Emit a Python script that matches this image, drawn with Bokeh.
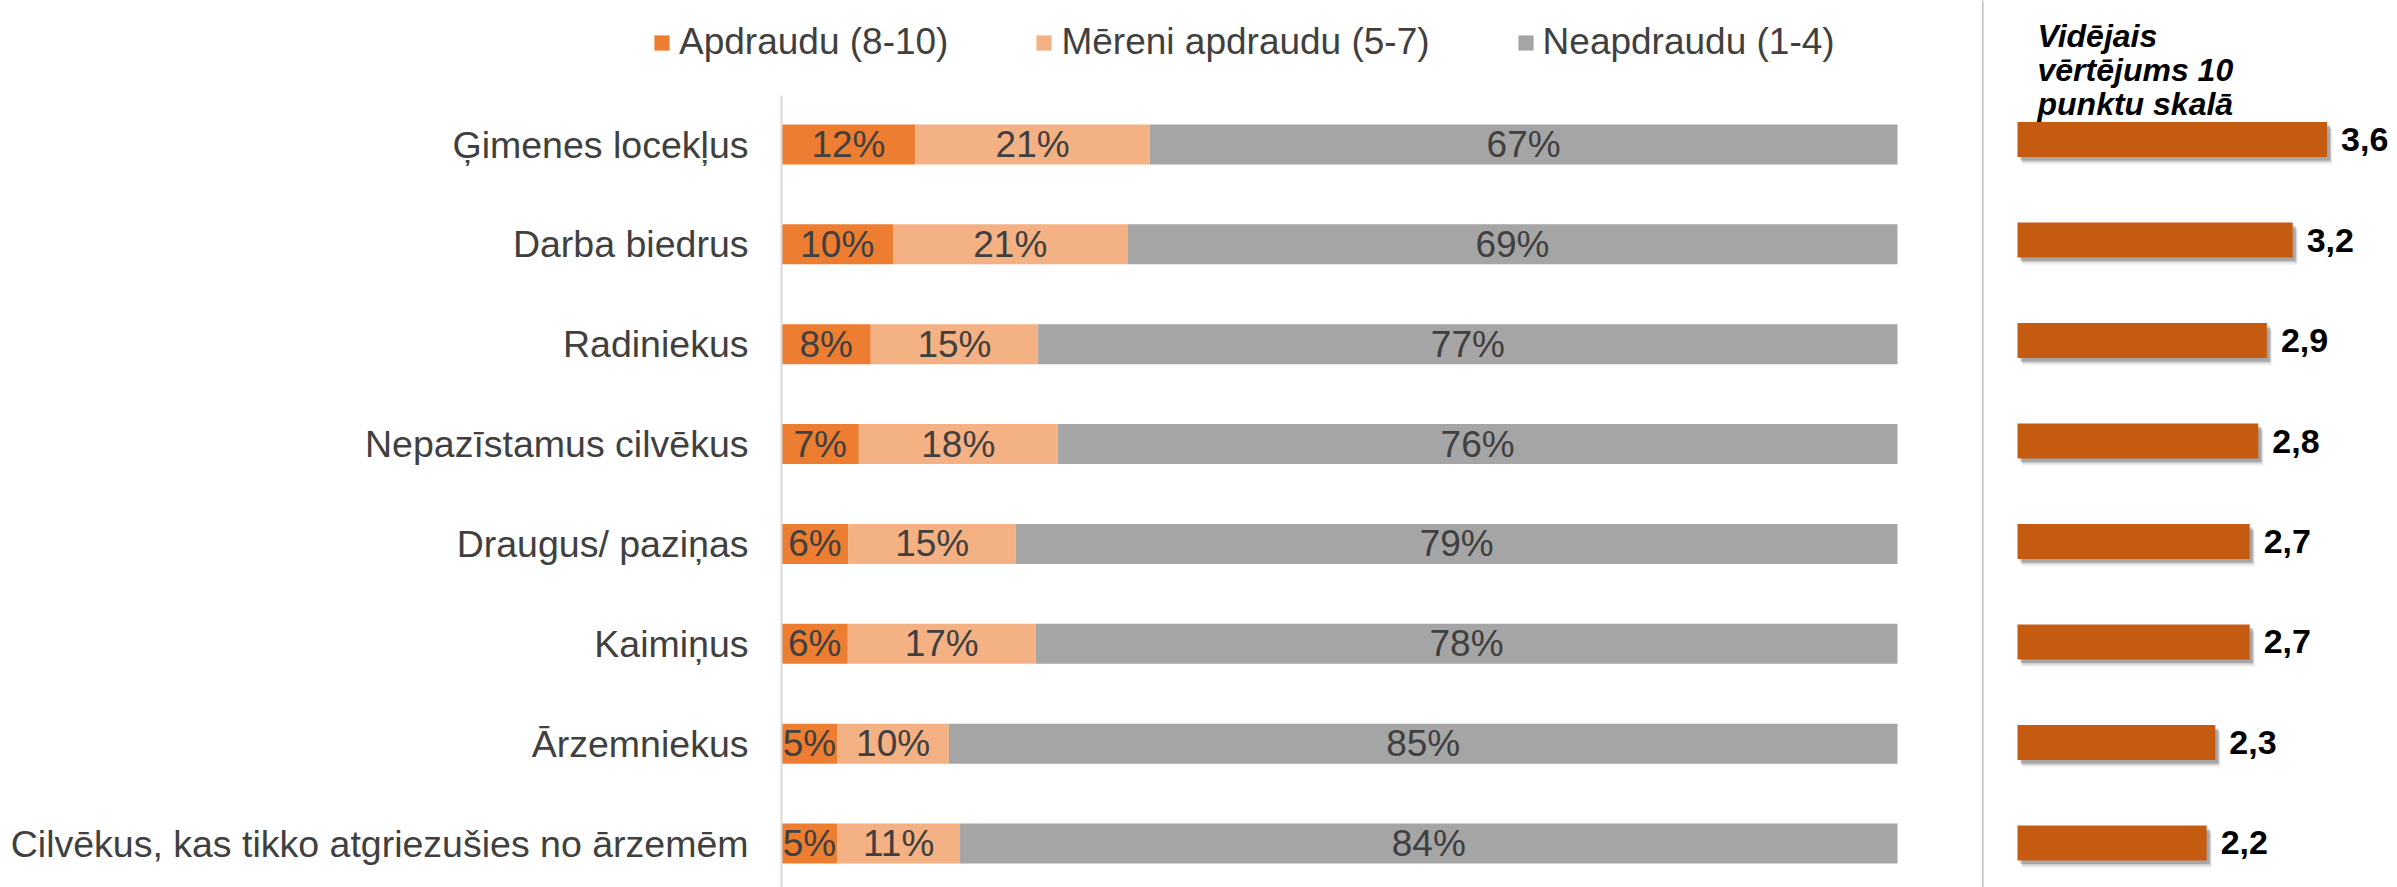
from bokeh.plotting import figure
from bokeh.models import Range1d, FixedTicker, Legend, LegendItem, Label, ColumnDataSource
from bokeh.layouts import row
from bokeh.embed import file_html
from bokeh.resources import INLINE
from bokeh.core.properties import value

# ---------------- data ----------------
categories = [
    "Ģimenes locekļus",
    "Darba biedrus",
    "Radiniekus",
    "Nepazīstamus cilvēkus",
    "Draugus/ paziņas",
    "Kaimiņus",
    "Ārzemniekus",
    "Cilvēkus, kas tikko atgriezušies no ārzemēm",
]
threatened = [12, 10, 8, 7, 6, 6, 5, 5]          # Apdraudu (8-10)
moderate = [21, 21, 15, 18, 15, 17, 10, 11]      # Mēreni apdraudu (5-7)
not_threatened = [67, 69, 77, 76, 79, 78, 85, 84]  # Neapdraudu (1-4)
avg_score = [3.6, 3.2, 2.9, 2.8, 2.7, 2.7, 2.3, 2.2]
series_names = ["Apdraudu (8-10)", "Mēreni apdraudu (5-7)", "Neapdraudu (1-4)"]
series_colors = ["#ED7D31", "#F4B183", "#A5A5A5"]
avg_color = "#C55A11"
avg_title = ["Vidējais", "vērtējums 10", "punktu skalā"]

FONT = "Liberation Sans"
TXT = "#404040"

n = len(categories)
ys = [n - 1 - i for i in range(n)]

# ---------------- left: 100% stacked bars ----------------
Y0, Y1 = -0.44042, 8.44202
p1 = figure(width=1982, height=887, output_backend="svg", toolbar_location=None,
            x_range=Range1d(-0.69982, 1.07617), y_range=Range1d(Y0, Y1),
            x_axis_location=None, min_border=0)
p1.outline_line_color = None
p1.xgrid.visible = False
p1.ygrid.visible = False

series = [threatened, moderate, not_threatened]
totals = [sum(s[i] for s in series) for i in range(n)]
cum = [0.0] * n
renderers = []
for k, s in enumerate(series):
    left = [cum[i] for i in range(n)]
    right = [cum[i] + s[i] / totals[i] for i in range(n)]
    cum = right
    src = ColumnDataSource(dict(
        y=ys, left=left, right=right,
        mid=[(l + r) / 2 for l, r in zip(left, right)],
        lab=[f"{v}%" for v in s],
    ))
    r = p1.hbar(y="y", left="left", right="right", height=0.4006, source=src,
                fill_color=series_colors[k], line_color=None)
    renderers.append(r)
    p1.text(x="mid", y="y", text="lab", source=src, text_align="center",
            text_baseline="middle", text_font=value(FONT),
            text_font_size=value("37px"), text_color=TXT)

yax = p1.yaxis[0]
yax.fixed_location = 0
yax.bounds = (Y0, 7.49069)
yax.ticker = FixedTicker(ticks=ys)
yax.major_label_overrides = {y: c for y, c in zip(ys, categories)}
yax.axis_line_color = "#D9D9D9"
yax.axis_line_width = 2
yax.major_tick_line_color = None
yax.minor_tick_line_color = None
yax.major_tick_out = 0
yax.major_tick_in = 0
yax.major_label_standoff = 33
yax.major_label_text_font = FONT
yax.major_label_text_font_size = "37.5px"
yax.major_label_text_color = TXT

legend = Legend(
    items=[LegendItem(label=nm, renderers=[r]) for nm, r in zip(series_names, renderers)],
    orientation="horizontal", location=(652, 824), spacing=86, padding=0, margin=0,
    glyph_width=19, glyph_height=19, label_standoff=8,
    label_text_font=FONT, label_text_font_size="37px", label_text_color=TXT,
    border_line_color=None, background_fill_alpha=0,
)
p1.add_layout(legend)

# ---------------- right: average score ----------------
p2 = figure(width=415, height=887, output_backend="svg", toolbar_location=None,
            x_range=Range1d(-0.407, 4.419), y_range=Range1d(-0.4428, 8.3831),
            x_axis_location=None, min_border_left=0, min_border_top=0,
            min_border_right=0, min_border_bottom=0)
p2.outline_line_color = None
p2.xgrid.visible = False
p2.ygrid.visible = False
yax2 = p2.yaxis[0]
yax2.ticker = FixedTicker(ticks=[])
yax2.axis_line_color = "#BFBFBF"
yax2.axis_line_width = 2
yax2.major_tick_line_color = None
yax2.minor_tick_line_color = None
yax2.major_tick_out = 0
yax2.major_tick_in = 0
yax2.major_label_standoff = 0
yax2.major_label_text_font_size = "0px"

px_x = 1 / 86.0     # data units per pixel (x)
px_y = 1 / 100.5    # data units per pixel (y)
bar_h = 35 * px_y
for dx, dy, a in [(5, 7, 0.10), (4, 5, 0.18), (3, 3.5, 0.28)]:
    p2.hbar(y=[y - dy * px_y for y in ys], left=[dx * px_x] * n,
            right=[v + dx * px_x for v in avg_score], height=bar_h,
            fill_color="#404040", fill_alpha=a, line_color=None)
p2.hbar(y=ys, left=0, right=avg_score, height=bar_h, fill_color=avg_color, line_color=None)
p2.text(x=avg_score, y=ys, text=[f"{v:.1f}".replace(".", ",") for v in avg_score],
        x_offset=14, text_align="left", text_baseline="middle",
        text_font=value(FONT), text_font_size=value("34px"), text_font_style="bold",
        text_color="#000000")

for j, line in enumerate(avg_title):
    p2.add_layout(Label(x=55, y=887 - 35 - 34 * j, x_units="screen", y_units="screen",
                        text=line, text_font=FONT, text_font_size="32px",
                        text_font_style="bold italic", text_color="#000000",
                        text_baseline="alphabetic"))

layout = row(p1, p2)
open("out.html", "w").write(file_html(layout, INLINE))
